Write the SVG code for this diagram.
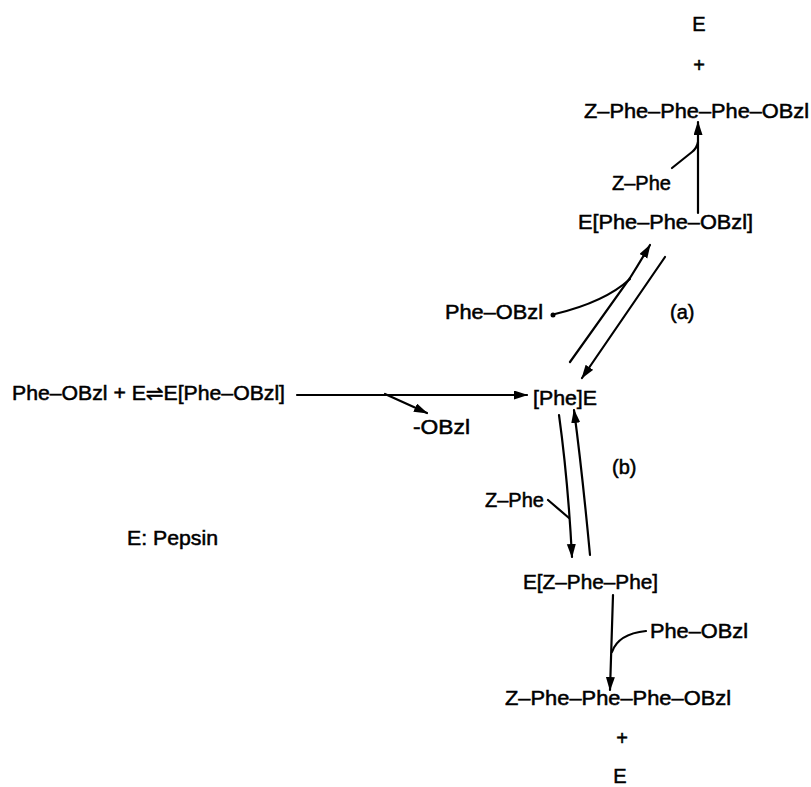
<svg xmlns="http://www.w3.org/2000/svg" width="811" height="787" viewBox="0 0 811 787">
<style>
text{font-family:"Liberation Sans",Arial,"DejaVu Sans",sans-serif;font-size:20px;fill:#000;stroke:#000;stroke-width:0.5}
.c{text-anchor:middle}
.ln{fill:none;stroke:#000;stroke-width:2.2;stroke-linecap:round}
</style>
<defs>
<marker id="ah" markerUnits="userSpaceOnUse" markerWidth="14" markerHeight="10" refX="13" refY="4.5" orient="auto">
<path d="M0,0 L14,4.5 L0,9 z" fill="#000"/>
</marker>
</defs>
<rect width="811" height="787" fill="#fff"/>
<g id="top-E"><text class="c" x="699" y="31">E</text></g>
<g id="top-plus"><text class="c" x="699" y="72">+</text></g>
<g id="top-product"><text x="584" y="118" textLength="225" lengthAdjust="spacingAndGlyphs">Z–Phe–Phe–Phe–OBzl</text></g>
<g id="top-zphe"><text x="612" y="190">Z–Phe</text></g>
<g id="complex-a"><text x="578" y="229" textLength="175" lengthAdjust="spacingAndGlyphs">E[Phe–Phe–OBzl]</text></g>
<g id="phe-obzl-a"><text x="445" y="319" textLength="98" lengthAdjust="spacingAndGlyphs">Phe–OBzl</text><circle cx="553" cy="315" r="2.5"/></g>
<g id="label-a"><text x="670" y="319">(a)</text></g>
<g id="start"><text x="12" y="400" textLength="273" lengthAdjust="spacingAndGlyphs">Phe–OBzl + E⇌E[Phe–OBzl]</text></g>
<g id="obzl-leaving"><text x="413" y="434" textLength="57" lengthAdjust="spacingAndGlyphs">-OBzl</text></g>
<g id="acyl-enzyme"><text x="533" y="405" textLength="64" lengthAdjust="spacingAndGlyphs">[Phe]E</text></g>
<g id="label-b"><text x="612" y="474">(b)</text></g>
<g id="zphe-b"><text x="485" y="507">Z–Phe</text></g>
<g id="legend"><text x="127" y="545" textLength="91" lengthAdjust="spacingAndGlyphs">E: Pepsin</text></g>
<g id="complex-b"><text x="523" y="589" textLength="135" lengthAdjust="spacingAndGlyphs">E[Z–Phe–Phe]</text></g>
<g id="phe-obzl-b"><text x="650" y="638" textLength="98" lengthAdjust="spacingAndGlyphs">Phe–OBzl</text></g>
<g id="bottom-product"><text x="505" y="705" textLength="226" lengthAdjust="spacingAndGlyphs">Z–Phe–Phe–Phe–OBzl</text></g>
<g id="bottom-plus"><text class="c" x="622" y="745">+</text></g>
<g id="bottom-E"><text class="c" x="620" y="783">E</text></g>
<g id="connectors">
<path class="ln" d="M297,395 L527,395" marker-end="url(#ah)"/>
<path class="ln" d="M385,394 L427,413" marker-end="url(#ah)"/>
<path class="ln" d="M570,362 L630,278 Q640,262 650,245" marker-end="url(#ah)"/>
<path class="ln" d="M555,314 Q605,302 630,279"/>
<path class="ln" d="M665,257 L582,378" marker-end="url(#ah)"/>
<path class="ln" d="M559,415 Q568,480 572,557" marker-end="url(#ah)"/>
<path class="ln" d="M590,555 Q582,470 574,410" marker-end="url(#ah)"/>
<path class="ln" d="M548,500 L569,518"/>
<path class="ln" d="M698,213 L698,122" marker-end="url(#ah)"/>
<path class="ln" d="M672,168 L692,152 Q697,148 698,142"/>
<path class="ln" d="M613,595 L610,690" marker-end="url(#ah)"/>
<path class="ln" d="M646,631 Q618,634 612,652"/>
</g>
</svg>
